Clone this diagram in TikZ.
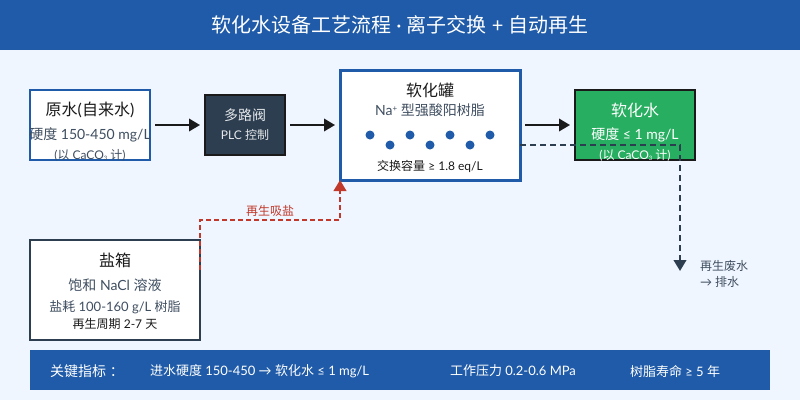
\documentclass[tikz,border=0pt]{standalone}
\usepackage{fontspec}
\setmainfont{Lato}
\newfontfamily\cjk{Noto Sans CJK SC}
\newcommand{\zh}[1]{{\cjk #1}}
\newcommand{\caco}{CaCO{\raisebox{-0.2ex}{\fontsize{6}{6}\selectfont 3}}}
\newcommand{\fs}[1]{\fontsize{#1}{#1}\selectfont}
\usetikzlibrary{arrows.meta,calc}
\definecolor{bgc}{HTML}{F0F6FF}
\definecolor{blu}{HTML}{1F5BA8}
\definecolor{navy}{HTML}{2C3E50}
\definecolor{ink}{HTML}{1A1A1A}
\definecolor{grn}{HTML}{27AE60}
\definecolor{redc}{HTML}{C0392B}
\definecolor{sub}{HTML}{3F4E60}
\tikzset{
  x=1pt,y=-1pt,
  box/.style={draw,outer sep=0pt,inner sep=0pt,rectangle,anchor=center},
  txt/.style={inner sep=0pt,outer sep=0pt,anchor=center,text=ink},
  subt/.style={txt,text=sub},
  wht/.style={txt,text=white},
  band/.style={fill=blu,draw=none,inner sep=0pt,outer sep=0pt},
  flow/.style={draw=ink,line width=2pt,-{Triangle[length=11pt,width=12.5pt]},shorten <=5pt,shorten >=5pt},
  dashd/.style={draw=navy,line width=2.3pt,dash pattern=on 6pt off 4pt,-{Triangle[length=11pt,width=12.5pt]}},
  dashr/.style={draw=redc,line width=2.3pt,dash pattern=on 5pt off 3pt,-{Triangle[length=11pt,width=12.5pt]}},
  dot/.style={circle,fill=blu,minimum size=9pt,inner sep=0pt,outer sep=0pt},
}
\begin{document}
\begin{tikzpicture}
\useasboundingbox (0,0) rectangle (800,400);
\fill[bgc] (0,0) rectangle (800,400);
\node[band,minimum width=800pt,minimum height=50pt] (head) at (400,25) {};
\node[wht] (title) at (400,25) {\fs{20}\zh{软化水设备工艺流程} · \zh{离子交换} + \zh{自动再生}};
\node[band,minimum width=740pt,minimum height=40pt] (foot) at (400,370) {};

\node[box,draw=blu,fill=white,line width=2pt,minimum width=120pt,minimum height=70pt] (raw) at (90,125) {};
\node[box,draw=ink,fill=navy,line width=2pt,minimum width=80pt,minimum height=60pt] (valve) at (245,125) {};
\node[box,draw=blu,fill=white,line width=3pt,minimum width=180pt,minimum height=110pt] (tank) at (430,125) {};
\node[box,draw=ink,fill=grn,line width=2pt,minimum width=120pt,minimum height=70pt] (soft) at (635,125) {};
\node[box,draw=navy,fill=white,line width=2pt,minimum width=170pt,minimum height=100pt] (salt) at (115,290) {};

\node[txt] (t1) at (90,110) {\fs{16}\zh{原水}(\zh{自来水})};
\node[subt] (t2) at (90,135) {\fs{14}\zh{硬度} 150-450 mg/L};
\node[subt] (t3) at (90,155) {\fs{12}(\zh{以} \caco{} \zh{计})};
\node[txt,text=white!88!navy] (t4) at (245,115) {\fs{14}\zh{多路阀}};
\node[txt,text=white!88!navy] (t5) at (245,135) {\fs{12}PLC \zh{控制}};
\node[txt] (t6) at (430,90) {\fs{16}\zh{软化罐}};
\node[subt] (t7) at (430,110) {\fs{14}Na\raisebox{0.6ex}{\fs{8}+} \zh{型强酸阳树脂}};
\node[txt] (t8) at (430,166) {\fs{12}\zh{交换容量} ≥ 1.8 eq/L};
\node[wht] (t9) at (635,110) {\fs{16}\zh{软化水}};
\node[wht] (t10) at (635,135) {\fs{14}\zh{硬度} ≤ 1 mg/L};
\node[wht] (t11) at (635,155) {\fs{12}(\zh{以} \caco{} \zh{计})};
\node[txt] (t12) at (115,260) {\fs{16}\zh{盐箱}};
\node[subt] (t13) at (115,285) {\fs{14}\zh{饱和} NaCl \zh{溶液}};
\node[subt] (t14) at (115,307) {\fs{13}\zh{盐耗} 100-160 g/L \zh{树脂}};
\node[txt] (t15) at (115,324) {\fs{12}\zh{再生周期} 2-7 \zh{天}};

\foreach \n/\x/\y in {a/370/135,b/390/145,c/410/135,d/430/145,e/450/135,f/470/145,g/490/135}
  \node[dot] (dot\n) at (\x,\y) {};

\draw[flow] (raw.east) -- (valve.west);
\draw[flow] (valve.east) -- (tank.west);
\draw[flow] (tank.east) -- (soft.west);

\coordinate (drainstart) at ($(tank.east)+(0,20)$);
\coordinate (drainturn) at (680,145);
\coordinate (drainend) at (680,271);
\draw[dashd] (drainstart) -- (drainturn) -- (drainend);

\coordinate (brinestart) at ($(salt.east)+(0,-20)$);
\coordinate (brinea) at (200,220);
\coordinate (brineb) at (340,220);
\draw[dashr] (brinestart) -- (brinea) -- (brineb) -- (tank.south west);

\node[txt,text=redc] (l1) at (270,211) {\fs{12}\zh{再生吸盐}};
\node[subt,anchor=west] (l2) at (700,266) {\fs{12}\zh{再生废水}};
\node[subt,anchor=west] (l3) at (700,282) {\fs{12}→ \zh{排水}};

\node[wht,anchor=west] (k1) at (50,371) {\fs{14}\zh{关键指标}\hspace{4pt}\zh{：}};
\node[wht,anchor=west] (k2) at (150,371) {\fs{13}\zh{进水硬度} 150-450 → \zh{软化水} ≤ 1 mg/L};
\node[wht,anchor=west] (k3) at (450,371) {\fs{13}\zh{工作压力} 0.2-0.6 MPa};
\node[wht,anchor=west] (k4) at (630,371) {\fs{13}\zh{树脂寿命} ≥ 5 \zh{年}};
\end{tikzpicture}
\end{document}
